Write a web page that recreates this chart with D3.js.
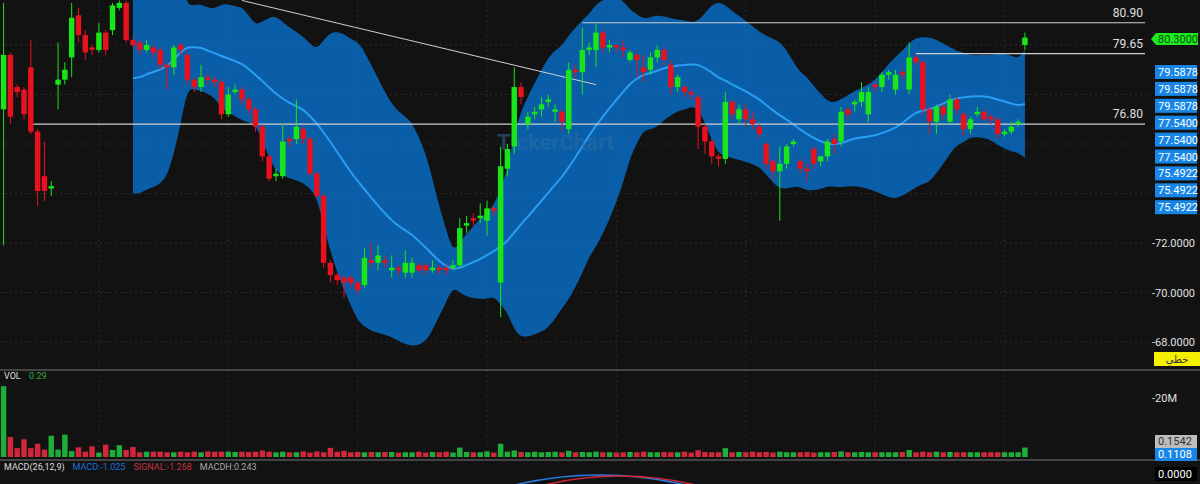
<!DOCTYPE html>
<html><head><meta charset="utf-8">
<script src="https://cdn.jsdelivr.net/npm/d3@7"></script>
<style>body{margin:0;background:#121212;}svg{display:block;font-family:Roboto,"DejaVu Sans",sans-serif;}</style>
</head><body>
<svg id="chart" width="1200" height="484"></svg>
<script>
// candles
var opens  = [77.4,79.6,78.3,78.2,79.1,76.5,74.7,74.2,78.4,78.6,79.5,81.2,80.4,79.9,79.8,80.5,80.6,81.5,81.7,80.2,
              80.1,79.8,79.9,79.8,79.2,79.1,80.0,79.6,78.6,78.3,78.7,78.6,78.5,77.2,78.1,78.2,77.8,77.4,76.7,
              75.5,74.7,74.7,76.2,76.2,76.6,76.2,74.8,73.9,71.2,70.7,70.6,70.6,70.4,70.3,71.3,71.2,71.3,70.9,
              71.0,70.8,70.8,71.1,71.1,70.9,71.0,71.0,71.0,71.1,72.7,73.0,73.0,72.9,73.4,70.4,75.0,75.9,78.3,
              76.8,77.2,77.4,77.7,77.3,77.3,76.6,79.0,78.9,79.8,79.8,80.5,79.9,80.0,79.9,79.4,79.6,79.1,79.0,79.5,
              79.8,79.2,78.3,78.3,78.1,77.9,76.7,76.1,75.5,75.4,77.7,77.0,77.4,77.0,76.7,76.0,75.3,74.9,75.2,76.0,
              75.3,75.0,75.8,75.3,75.5,76.2,76.1,77.4,77.6,77.7,77.2,78.4,78.3,78.8,78.2,78.9,78.2,79.5,79.3,77.4,
              76.9,77.5,76.9,77.8,77.2,76.6,77.2,77.3,77.1,77.0,76.4,76.5,76.8,80.0];
var closes = [79.6,77.1,78.1,77.2,76.5,74.1,74.1,74.3,78.6,79.0,81.1,80.4,79.7,79.8,80.5,79.8,81.6,81.7,80.2,80.0,
              79.8,80.0,79.7,79.2,79.1,79.9,79.8,78.6,78.3,78.7,78.6,78.5,77.2,78.0,78.2,77.8,77.4,76.7,75.5,
              74.6,74.8,76.1,76.1,76.7,76.2,74.8,73.9,71.2,70.7,70.5,70.4,70.4,70.1,71.4,71.2,71.5,71.2,71.0,
              70.9,71.2,71.2,70.9,70.9,71.0,70.9,70.9,71.1,72.6,72.8,72.9,73.1,73.4,73.3,75.1,75.8,78.3,77.9,
              77.1,77.3,77.6,77.8,77.4,76.9,79.0,78.9,79.8,79.9,80.5,79.9,80.0,79.9,79.8,79.7,79.4,78.9,79.5,79.8,
              79.4,78.3,78.7,78.1,78.0,76.7,76.1,75.5,75.4,77.7,77.2,77.4,77.0,76.8,76.4,75.2,74.9,75.2,75.9,76.1,
              75.0,74.9,75.2,75.5,76.1,76.0,77.3,77.2,77.7,78.1,78.1,78.3,78.8,78.9,78.8,78.8,79.5,79.3,77.4,76.9,
              77.5,77.2,77.8,77.4,76.6,77.0,77.3,77.0,77.0,76.4,76.5,76.7,76.9,80.3];
var highs  = [81.7,79.7,78.4,78.3,80.2,76.6,76.1,74.5,80.1,79.3,81.7,81.5,80.6,80.0,80.9,80.6,81.7,81.8,81.8,80.3,
              80.2,80.2,80.0,79.9,79.3,80.0,80.1,79.7,78.7,79.2,78.8,78.7,78.6,78.3,78.4,78.3,77.9,77.5,76.8,
              75.6,75.0,76.8,76.3,77.8,76.7,76.3,74.9,74.0,71.3,70.8,70.7,70.7,70.5,71.8,72.0,71.9,71.5,71.5,
              71.1,71.7,71.4,71.2,71.2,71.3,71.1,71.1,71.3,73.0,73.1,73.2,73.6,73.7,73.5,75.9,76.0,79.1,78.5,
              77.3,77.5,77.9,78.0,77.6,77.4,79.3,79.2,80.7,80.1,80.9,80.6,80.2,80.0,80.2,79.8,79.7,79.6,79.7,80.0,
              79.9,79.4,78.8,78.4,78.2,78.0,76.8,76.2,75.6,78.1,77.8,77.6,77.6,77.3,76.8,76.1,75.4,75.9,76.0,76.2,
              75.4,75.2,75.9,75.5,76.2,76.4,77.5,77.5,77.8,78.5,78.3,78.5,78.9,79.0,79.0,79.0,80.1,79.6,79.4,77.5,
              77.6,77.6,78.0,77.9,77.3,77.1,77.5,77.4,77.2,77.1,76.6,76.9,77.0,80.5];
var lows   = [71.9,76.8,77.9,77.0,76.4,73.5,73.7,73.9,77.4,78.4,78.7,80.1,79.4,79.6,79.7,79.6,80.4,81.4,80.1,79.9,
              79.6,79.7,79.5,79.0,78.2,78.8,79.6,78.4,78.1,78.1,78.4,78.3,77.0,77.1,78.0,77.6,77.2,76.5,75.3,
              74.5,74.5,74.6,75.9,76.0,76.0,74.7,73.8,71.0,70.4,70.3,69.8,70.2,69.9,70.2,71.0,70.9,71.0,70.6,
              70.7,70.6,70.6,70.8,70.7,70.8,70.7,70.7,70.9,71.0,72.4,72.7,72.8,72.3,73.1,69.0,74.7,75.6,77.6,
              76.6,77.0,77.1,77.5,76.9,76.5,76.4,78.7,78.0,79.6,79.1,79.7,79.7,79.7,79.5,79.3,78.7,78.5,78.8,79.3,
              79.2,78.0,78.1,77.9,77.8,75.8,75.6,75.2,75.1,75.2,77.0,76.8,76.7,76.6,76.2,75.0,74.6,72.9,75.0,75.9,
              74.8,74.5,75.0,75.1,75.3,75.6,75.9,77.0,77.3,77.5,76.9,78.1,78.1,78.6,78.0,78.6,78.0,79.2,77.2,76.4,
              76.4,77.0,76.8,77.2,76.3,76.4,77.1,76.9,76.8,76.2,76.3,76.4,76.7,79.8];
var volumes = [24,6.8,3,6,3,4.5,2.5,7.2,2.5,7.6,2,3.3,1.8,3.6,1.5,4.2,2.4,4,2.4,3.4,
               1.6,1.8,1.8,1.8,1.6,1.6,1.8,1.6,1.8,1.6,1.9,1.8,1.8,1.8,1.7,1.8,1.7,1.8,2.2,
               1.8,1.6,1.8,1.6,1.6,1.9,1.5,1.9,1.6,3.1,1.8,2.1,1.6,1.7,1.6,1.7,1.6,1.7,1.7,
               1.5,1.6,1.6,1.8,1.5,1.7,1.6,1.8,1.5,3.2,1.7,1.6,1.6,1.9,1.5,4.5,1.8,2.2,1.7,
               1.6,1.8,1.6,1.7,1.8,1.6,2.1,1.6,1.7,1.6,1.8,1.6,1.6,1.5,1.6,1.7,1.6,1.8,1.6,1.6,
               1.7,1.6,1.6,1.8,1.5,2.3,1.7,1.6,1.6,3,1.6,1.7,1.6,1.8,1.6,1.7,1.5,1.8,1.6,1.6,
               1.6,1.7,1.5,1.6,1.6,1.7,1.9,1.6,1.6,1.7,1.6,1.6,1.6,1.6,1.6,1.7,2.4,1.6,1.8,1.6,
               1.8,1.6,1.7,1.6,1.6,1.6,1.6,1.6,1.6,1.6,1.6,1.6,1.6,3.2];
var priceTicks = [68, 70, 72];
var levels = [{v: 80.90, from: 85}, {v: 79.65, from: 134}, {v: 76.80, from: 4}];
var bollLabels = ["79.5878","79.5878","79.5878","77.5400","77.5400","77.5400","75.4922","75.4922","75.4922"];

var svg = d3.select('#chart'),
    W = 1200, H = 484, n = closes.length;
svg.append('rect').attr('width', W).attr('height', H).attr('fill', '#121212');

var x = d3.scaleBand().domain(d3.range(n)).range([-0.5, 1029]).padding(0.2);
var cx = function(i) { return x(i) + x.bandwidth() / 2; };
var y = d3.scaleLinear().domain([68, 80]).range([342, 45]);
var yv = d3.scaleLinear().domain([0, 20]).range([457, 398]);

// grid
var grid = svg.append('g').attr('stroke', '#2a2a2a').attr('stroke-dasharray', '2,3');
[68,70,72,74,76,78,80].forEach(function(v) {
  grid.append('line').attr('x1', 0).attr('x2', 1150).attr('y1', y(v)).attr('y2', y(v));
});
d3.range(14, n, 19).forEach(function(i) {
  grid.append('line').attr('x1', cx(i)).attr('x2', cx(i)).attr('y1', 0).attr('y2', 460);
});

// bollinger (20, 2)
var boll = [];
for (var i = 19; i < n; i++) {
  var w = closes.slice(i - 19, i + 1), m = d3.mean(w), s = d3.deviation(w) * Math.sqrt(19 / 20);
  boll.push({i: i, m: m, up: m + 2 * s, lo: m - 2 * s});
}
svg.append('path').datum(boll).attr('fill', '#0a63b0').attr('opacity', 0.95)
  .attr('d', d3.area().curve(d3.curveBasis).x(function(d) { return cx(d.i); })
    .y0(function(d) { return y(d.lo); }).y1(function(d) { return y(d.up); }));
svg.append('path').datum(boll).attr('fill', 'none').attr('stroke', '#2a9df4').attr('stroke-width', 2)
  .attr('d', d3.line().curve(d3.curveBasis).x(function(d) { return cx(d.i); }).y(function(d) { return y(d.m); }));

svg.append('text').attr('x', 497).attr('y', 150).attr('fill', '#2e6ea3').attr('opacity', 0.5)
  .attr('font-size', 22).attr('font-weight', 'bold').text('TickerChart');

// levels and trend line
levels.forEach(function(l) {
  svg.append('line').attr('x1', cx(l.from)).attr('x2', 1145).attr('y1', y(l.v)).attr('y2', y(l.v))
    .attr('stroke', '#cfcfcf').attr('stroke-width', 1.2);
  svg.append('text').attr('x', 1143).attr('y', y(l.v) - 6).attr('text-anchor', 'end')
    .attr('fill', '#e0e0e0').attr('font-size', 12).text(l.v.toFixed(2));
});
svg.append('line').attr('x1', cx(35)).attr('y1', y(81.8)).attr('x2', cx(87)).attr('y2', y(78.4))
  .attr('stroke', '#cfcfcf').attr('stroke-width', 1);

// candles
var col = function(i) { return closes[i] >= opens[i] ? '#19e619' : '#e8121e'; };
var c = svg.append('g').selectAll('g').data(d3.range(n)).enter().append('g');
c.append('line').attr('x1', cx).attr('x2', cx)
  .attr('y1', function(i) { return y(highs[i]); }).attr('y2', function(i) { return y(lows[i]); })
  .attr('stroke', col).attr('stroke-width', 1);
c.append('rect').attr('x', function(i) { return x(i); }).attr('width', x.bandwidth())
  .attr('y', function(i) { return y(Math.max(opens[i], closes[i])); })
  .attr('height', function(i) { return Math.max(2, Math.abs(y(opens[i]) - y(closes[i]))); })
  .attr('fill', col);

// volume
svg.selectAll('.vol').data(d3.range(n)).enter().append('rect')
  .attr('x', function(i) { return x(i); }).attr('width', x.bandwidth())
  .attr('y', function(i) { return yv(volumes[i]); })
  .attr('height', function(i) { return yv(0) - yv(volumes[i]); })
  .attr('fill', function(i) { return closes[i] >= opens[i] ? '#1fae3a' : '#d0283a'; });

// panel separators
[370, 460].forEach(function(v) {
  svg.append('line').attr('x1', 0).attr('x2', W).attr('y1', v).attr('y2', v).attr('stroke', '#777');
});

// right axis
var ax = svg.append('g').attr('font-size', 11).attr('fill', '#e0e0e0');
priceTicks.forEach(function(v) {
  ax.append('text').attr('x', 1152).attr('y', y(v) + 4).text('-' + v.toFixed(4));
});
ax.append('text').attr('x', 1152).attr('y', yv(20) + 4).text('-20M');
bollLabels.forEach(function(t, k) {
  svg.append('rect').attr('x', 1155).attr('y', 65 + k * 16.9).attr('width', 42).attr('height', 14).attr('fill', '#1886e6');
  svg.append('text').attr('x', 1158).attr('y', 76 + k * 16.9).attr('font-size', 11).attr('fill', '#fff').text(t);
});
svg.append('path').attr('d', 'M1151,39 L1156,33 L1198,33 L1198,45 L1156,45 Z').attr('fill', '#1ee81e');
svg.append('text').attr('x', 1158).attr('y', 43).attr('font-size', 11).attr('fill', '#0b4d0b').text(closes[n - 1].toFixed(4));
svg.append('rect').attr('x', 1154).attr('y', 352).attr('width', 46).attr('height', 14).attr('fill', '#f5f000');
svg.append('text').attr('x', 1177).attr('y', 363).attr('text-anchor', 'middle').attr('font-size', 10)
  .attr('font-family', 'Noto Sans, DejaVu Sans').attr('fill', '#333').text('خطي');
svg.append('rect').attr('x', 1155).attr('y', 435).attr('width', 42).attr('height', 13).attr('fill', '#bdbdbd');
svg.append('text').attr('x', 1158).attr('y', 445).attr('font-size', 11).attr('fill', '#333').text('0.1542');
svg.append('rect').attr('x', 1155).attr('y', 448).attr('width', 42).attr('height', 13).attr('fill', '#1886e6');
svg.append('text').attr('x', 1158).attr('y', 458).attr('font-size', 11).attr('fill', '#fff').text('0.1108');
svg.append('rect').attr('x', 1155).attr('y', 467).attr('width', 42).attr('height', 14).attr('fill', '#000');
svg.append('text').attr('x', 1158).attr('y', 478).attr('font-size', 11).attr('fill', '#fff').text('0.0000');

// panel labels
var vl = svg.append('text').attr('x', 4).attr('y', 379).attr('font-size', 9);
vl.append('tspan').attr('fill', '#ddd').text('VOL ');
vl.append('tspan').attr('fill', '#2eae3a').attr('dx', 6).text('0.29');
var ml = svg.append('text').attr('x', 4).attr('y', 470).attr('font-size', 9);
ml.append('tspan').attr('fill', '#ddd').text('MACD(26,12,9)');
ml.append('tspan').attr('fill', '#1d6fd8').attr('dx', 8).text('MACD:-1.025');
ml.append('tspan').attr('fill', '#c43240').attr('dx', 8).text('SIGNAL:-1.268');
ml.append('tspan').attr('fill', '#aaa').attr('dx', 8).text('MACDH:0.243');

// macd tops peeking in at the bottom
svg.append('path').attr('d', 'M510,486 Q600,464 690,486').attr('fill', 'none').attr('stroke', '#2a7de0').attr('stroke-width', 1.5);
svg.append('path').attr('d', 'M540,486 Q620,466 700,486').attr('fill', 'none').attr('stroke', '#d0283a').attr('stroke-width', 1.5);
</script>
</body></html>
